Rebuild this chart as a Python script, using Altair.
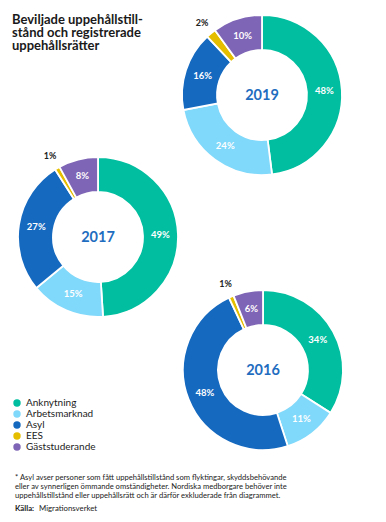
import altair as alt
import pandas as pd

# ---- data ----
categories = ["Anknytning", "Arbetsmarknad", "Asyl", "EES", "Gäststuderande"]
years = ["2019", "2017", "2016"]
values_2019 = [48, 24, 16, 2, 10]
values_2017 = [49, 15, 27, 1, 8]
values_2016 = [34, 11, 48, 1, 6]
colors = ["#00BE9F", "#80D8FA", "#1569BF", "#E5BE00", "#7F65B5"]

title_lines = ["Beviljade uppehållstill-", "stånd och registrerade", "uppehållsrätter"]
note_lines = [
    "* Asyl avser personer som fått uppehållstillstånd som flyktingar, skyddsbehövande",
    "eller av synnerligen ömmande omständigheter. Nordiska medborgare behöver inte",
    "uppehållstillstånd eller uppehållsrätt och är därför exkluderade från diagrammet.",
]
source_label = "Källa:"
source_text = "Migrationsverket"

# ---- layout (plot-area pixels) ----
W, H = 370, 506
centers = {"2019": (254, 87), "2017": (90, 229), "2016": (255, 362)}
R_IN, R_OUT = 45, 80
R_LABEL = 62.5
R_OUTSIDE = 94

series = {"2019": values_2019, "2017": values_2017, "2016": values_2016}
rows = []
for y in years:
    for i, (c, v) in enumerate(zip(categories, series[y])):
        rows.append({"year": y, "cat": c, "idx": i, "value": v})
df = pd.DataFrame(rows)

color_scale = alt.Scale(domain=categories, range=colors)
theta_enc = alt.Theta("value:Q", stack=True, scale=alt.Scale(domain=[0, 100]))

layers = []
for k, y in enumerate(years):
    cx, cy = centers[y]
    base = alt.Chart(df).transform_filter(alt.datum.year == y).encode(
        theta=theta_enc,
        order=alt.Order("idx:Q"),
        x=alt.value(cx),
        y=alt.value(cy),
    )
    arc = base.mark_arc(innerRadius=R_IN, outerRadius=R_OUT, stroke="white", strokeWidth=1.8).encode(
        color=alt.Color(
            "cat:N",
            scale=color_scale,
            sort=categories,
            legend=alt.Legend(
                title=None,
                orient="none",
                legendX=4,
                legendY=390,
                symbolType="circle",
                symbolSize=55,
                labelFontSize=10,
                labelFont="Lato",
                labelColor="#222222",
                rowPadding=1,
                symbolStrokeWidth=0,
                padding=0,
            ) if k == 0 else None,
        )
    )
    inner = base.transform_calculate(
        lab="datum.cat == 'EES' ? '' : datum.value + '%'"
    ).mark_text(radius=R_LABEL, color="white", fontSize=9.5, fontWeight="bold", font="Lato").encode(
        text="lab:N"
    )
    outer = base.transform_calculate(
        lab="datum.cat == 'EES' ? datum.value + '%' : ''"
    ).mark_text(radius=R_OUTSIDE, color="#222222", fontSize=9, fontWeight="bold", font="Lato").encode(
        text="lab:N"
    )
    yr = alt.Chart(pd.DataFrame({"t": [y]})).mark_text(
        color="#1F6DC0", fontSize=14.5, fontWeight="bold", font="Lato"
    ).encode(text="t:N", x=alt.value(cx), y=alt.value(cy + 1))
    layers += [arc, inner, outer, yr]

one = pd.DataFrame({"a": [0]})
title_layers = [
    alt.Chart(one).mark_text(
        align="left", baseline="alphabetic", fontSize=13, fontWeight="bold", font="Lato",
        color="#1a1a1a"
    ).encode(text=alt.value(line), x=alt.value(4), y=alt.value(16 + 13 * i))
    for i, line in enumerate(title_lines)
]

note_layers = [
    alt.Chart(one).mark_text(
        align="left", baseline="alphabetic", fontSize=7.6, font="Lato", color="#222222"
    ).encode(text=alt.value(line), x=alt.value(7), y=alt.value(472 + 9 * i))
    for i, line in enumerate(note_lines)
]

src1 = alt.Chart(one).mark_text(
    align="left", baseline="alphabetic", fontSize=7.8, font="Lato", fontWeight="bold", color="#222222"
).encode(text=alt.value(source_label), x=alt.value(7), y=alt.value(503))
src2 = alt.Chart(one).mark_text(
    align="left", baseline="alphabetic", fontSize=7.8, font="Lato", color="#222222"
).encode(text=alt.value(source_text), x=alt.value(31), y=alt.value(503))

chart = alt.layer(*layers, *title_layers, *note_layers, src1, src2).properties(
    width=W, height=H, padding=0, autosize=alt.AutoSizeParams(type="none")
).configure_view(stroke=None)

chart.save("out.html", embed_options={"renderer": "svg", "actions": False})
